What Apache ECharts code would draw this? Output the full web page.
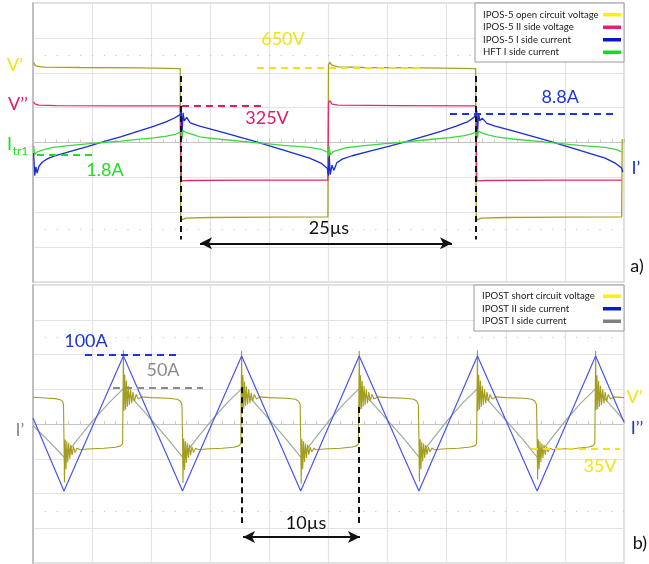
<!DOCTYPE html>
<html><head><meta charset="utf-8">
<script src="https://cdn.jsdelivr.net/npm/echarts@6/dist/echarts.min.js"></script>
<style>html,body{margin:0;padding:0;background:#fff}#c{width:649px;height:564px}</style>
</head><body><div id="c"></div><script>
// ---------- names ----------
const topNames = ['IPOS-5 open circuit voltage', 'IPOS-5 II side voltage', 'IPOS-5 I side current', 'HFT I side current'];
const bottomNames = ['IPOST short circuit voltage', 'IPOST II side current', 'IPOST I side current'];

// ---------- panel a) traces: [time µs, divisions] ----------
const topVoltOpen = [[0.05,2.3],[0.15,2.22],[0.4,2.18],[1,2.16],[4,2.15],[9,2.14],[12.45,2.12],[12.5,-2.16],[12.6,-2.22],[12.9,-2.17],[15,-2.15],[20,-2.14],[24.95,-2.13],[25.0,2.22],[25.1,2.3],[25.3,2.22],[25.8,2.17],[28,2.15],[33,2.14],[37.45,2.12],[37.5,-2.16],[37.6,-2.22],[37.9,-2.17],[40,-2.15],[45,-2.14],[49.8,-2.13],[49.85,0.1]];
const topVoltII = [[0.05,1.16],[0.2,1.1],[0.5,1.07],[2,1.06],[8,1.05],[12.45,1.05],[12.55,-1.1],[12.7,-1.13],[13.2,-1.09],[18,-1.08],[24.95,-1.08],[25.0,1.14],[25.1,1.2],[25.3,1.1],[25.8,1.07],[31,1.06],[37.45,1.05],[37.55,-1.1],[37.7,-1.13],[38.2,-1.09],[44,-1.08],[49.8,-1.08]];
const topCurrI = [[0.05,-0.3],[0.15,-0.95],[0.25,-0.7],[0.35,-0.88],[0.5,-0.68],[0.8,-0.56],[1.2,-0.47],[1.7,-0.4],[3.1,-0.26],[4.6,-0.12],[5.9,0.02],[7.4,0.16],[8.8,0.31],[10.2,0.46],[11.3,0.6],[12.0,0.71],[12.45,0.8],[12.55,0.9],[12.6,0.22],[12.7,0.85],[12.8,0.62],[13.0,0.72],[13.3,0.56],[14.1,0.47],[15.6,0.33],[18.4,0.07],[21.2,-0.22],[23.4,-0.45],[24.4,-0.6],[24.9,-0.74],[25.0,-0.95],[25.05,-0.3],[25.15,-0.92],[25.3,-0.65],[25.45,-0.8],[25.7,-0.58],[26.2,-0.47],[27,-0.38],[28.5,-0.25],[30,-0.12],[31.5,0.02],[33,0.17],[34.5,0.32],[35.8,0.47],[36.8,0.6],[37.3,0.72],[37.45,0.8],[37.55,0.9],[37.6,0.25],[37.7,0.84],[37.8,0.62],[38.0,0.7],[38.4,0.55],[39.1,0.47],[40.6,0.33],[43.4,0.07],[46.2,-0.22],[48.4,-0.45],[49.3,-0.6],[49.8,-0.73],[49.9,-0.85]];
const topCurrHFT = [[0.05,-0.1],[0.15,-0.35],[0.3,-0.28],[0.6,-0.24],[1.0,-0.2],[1.7,-0.14],[3,-0.09],[4.6,-0.04],[6,0.0],[7.4,0.04],[8.8,0.09],[10.2,0.13],[11.3,0.18],[12.0,0.23],[12.45,0.3],[12.55,0.38],[12.6,0.1],[12.7,0.34],[13.0,0.28],[13.5,0.23],[14.1,0.16],[15.6,0.1],[18.4,0.01],[21.2,-0.08],[23.4,-0.14],[24.4,-0.2],[24.9,-0.28],[25.0,-0.4],[25.05,-0.1],[25.15,-0.35],[25.4,-0.26],[25.8,-0.22],[26.5,-0.15],[28,-0.09],[29.6,-0.04],[31,0.0],[32.5,0.05],[34,0.1],[35.3,0.14],[36.5,0.2],[37.1,0.25],[37.45,0.3],[37.55,0.38],[37.6,0.12],[37.7,0.33],[38.0,0.27],[38.5,0.22],[39.2,0.16],[40.6,0.1],[43.4,0.01],[46.2,-0.08],[48.4,-0.14],[49.3,-0.2],[49.8,-0.27]];

// ---------- panel b) traces ----------
const bottomVoltShort = [[0,0.77],[1.0,0.75],[1.9,0.73],[2.3,0.7],[2.5,0.65],[2.58,0.56],
[2.62,-0.4],[2.66,-1.68],[2.72,-0.45],[2.79,-1.3],[2.86,-0.5],[2.94,-1.1],[3.02,-0.55],[3.11,-1.0],[3.2,-0.6],[3.3,-0.9],[3.42,-0.65],[3.55,-0.82],[3.72,-0.7],[4.0,-0.74],[4.6,-0.72],[6.0,-0.7],[7.0,-0.67],[7.4,-0.63],[7.58,-0.57],
[7.65,2.12],[7.7,0.38],[7.76,1.42],[7.83,0.42],[7.9,1.25],[7.98,0.5],[8.06,1.1],[8.15,0.55],[8.25,1.0],[8.35,0.6],[8.46,0.92],[8.58,0.65],[8.72,0.85],[8.9,0.72],[9.2,0.78],[10,0.76],[11.5,0.74],[12.2,0.71],[12.45,0.66],[12.6,0.56],
[12.65,-0.4],[12.69,-1.7],[12.75,-0.42],[12.82,-1.32],[12.89,-0.5],[12.97,-1.12],[13.05,-0.55],[13.14,-0.98],[13.23,-0.6],[13.33,-0.9],[13.45,-0.65],[13.58,-0.82],[13.75,-0.7],[14.0,-0.74],[14.6,-0.72],[16,-0.7],[17.0,-0.67],[17.4,-0.63],[17.58,-0.57],
[17.65,2.1],[17.7,0.36],[17.76,1.4],[17.83,0.44],[17.9,1.22],[17.98,0.52],[18.06,1.08],[18.15,0.56],[18.25,1.0],[18.35,0.6],[18.46,0.9],[18.58,0.66],[18.72,0.85],[18.9,0.72],[19.2,0.78],[20,0.76],[21.5,0.74],[22.2,0.71],[22.45,0.66],[22.6,0.56],
[22.65,-0.42],[22.69,-1.72],[22.75,-0.44],[22.82,-1.3],[22.89,-0.5],[22.97,-1.1],[23.05,-0.56],[23.14,-0.98],[23.23,-0.6],[23.33,-0.88],[23.45,-0.66],[23.58,-0.8],[23.75,-0.7],[24.0,-0.74],[24.6,-0.72],[26,-0.7],[27.0,-0.66],[27.35,-0.63],[27.53,-0.57],
[27.6,2.1],[27.65,0.4],[27.71,1.4],[27.78,0.43],[27.85,1.24],[27.93,0.5],[28.01,1.1],[28.1,0.55],[28.2,1.0],[28.3,0.6],[28.41,0.92],[28.53,0.65],[28.67,0.85],[28.85,0.72],[29.15,0.78],[30,0.76],[31.5,0.74],[32.2,0.71],[32.45,0.66],[32.6,0.56],
[32.65,-0.4],[32.69,-1.66],[32.75,-0.44],[32.82,-1.3],[32.89,-0.52],[32.97,-1.08],[33.05,-0.56],[33.14,-0.98],[33.23,-0.6],[33.33,-0.88],[33.45,-0.66],[33.58,-0.8],[33.75,-0.7],[34.0,-0.74],[34.6,-0.72],[36,-0.7],[37.0,-0.66],[37.35,-0.63],[37.53,-0.57],
[37.6,2.12],[37.65,0.38],[37.71,1.42],[37.78,0.42],[37.85,1.25],[37.93,0.5],[38.01,1.1],[38.1,0.55],[38.2,1.0],[38.3,0.6],[38.41,0.92],[38.53,0.65],[38.67,0.85],[38.85,0.72],[39.15,0.78],[40,0.76],[41.5,0.74],[42.2,0.71],[42.45,0.66],[42.6,0.56],
[42.65,-0.42],[42.69,-1.6],[42.75,-0.44],[42.82,-1.3],[42.89,-0.5],[42.97,-1.1],[43.05,-0.56],[43.14,-0.98],[43.23,-0.6],[43.33,-0.88],[43.45,-0.66],[43.58,-0.8],[43.75,-0.7],[44.0,-0.74],[44.6,-0.72],[46,-0.7],[47.0,-0.66],[47.35,-0.63],[47.53,-0.57],
[47.6,2.1],[47.65,0.4],[47.71,1.4],[47.78,0.43],[47.85,1.24],[47.93,0.5],[48.01,1.1],[48.1,0.55],[48.2,1.0],[48.3,0.6],[48.41,0.92],[48.53,0.65],[48.67,0.85],[48.85,0.72],[49.15,0.78],[50,0.76]];
const bottomCurrII = [[0,0.17],[2.62,-1.93],[7.65,1.96],[12.65,-1.93],[17.65,1.96],[22.65,-1.93],[27.6,1.96],[32.65,-1.93],[37.6,1.96],[42.65,-1.93],[47.6,1.96],[50,0.05]];
const bottomCurrI = [[0,-0.05],[1.3,-0.48],[2.62,-0.95],[3.87,-0.4],[5.12,0.12],[6.4,0.6],[7.65,1.02],[8.9,0.55],[10.15,0.07],[11.4,-0.43],[12.65,-0.95],[13.9,-0.4],[15.15,0.12],[16.4,0.6],[17.65,1.02],[18.9,0.55],[20.15,0.07],[21.4,-0.43],[22.65,-0.95],[23.9,-0.4],[25.1,0.12],[26.35,0.6],[27.6,1.02],[28.85,0.55],[30.1,0.07],[31.4,-0.43],[32.65,-0.95],[33.9,-0.4],[35.1,0.12],[36.35,0.6],[37.6,1.02],[38.85,0.55],[40.1,0.07],[41.4,-0.43],[42.65,-0.95],[43.9,-0.4],[45.1,0.12],[46.35,0.6],[47.6,1.02],[48.85,0.55],[50,0.1]];

// ---------- annotations (data units) ----------
const topDashes = [ // [t1,y1,t2,y2,colorKey]
  [18.95,2.14,32.74,2.14,'y'],[12.6,1.05,19.46,1.05,'p'],[0.34,-0.36,4.99,-0.36,'g'],[35.28,0.82,49.07,0.82,'b'],
  [12.52,1.91,12.52,-2.78,'k'],[37.48,1.91,37.48,-2.78,'k']];
const topArrow = [14.13,-2.89,35.45,-2.89];
const topTexts = [ // [text,t,y,colorKey,size]
  ['650V',21.15,2.95,'y',18],['325V',19.8,0.71,'p',18],['1.8A',6.09,-0.79,'g',18],['8.8A',44.6,1.31,'b',18],
  ['25µs',25.04,-2.46,'k',18],['V’',-1.52,2.23,'y',18],['V’’',-1.27,1.11,'p',18],['I',-1.99,-0.04,'g',18],['tr1',-1.06,-0.24,'g',12],
  ['I’',51.0,-0.73,'b',18],['a)',51.1,-3.55,'k',18]];
const bottomDashes = [
  [4.4,1.99,12.1,1.99,'b'],[6.77,1.04,14.38,1.04,'gr'],[42.13,-0.72,49.66,-0.72,'y'],
  [17.68,1.06,17.68,-2.85,'k'],[27.58,0.49,27.58,-2.91,'k']];
const bottomArrow = [17.77,-3.25,27.66,-3.25];
const bottomTexts = [
  ['100A',4.48,2.39,'b',18],['50A',11.0,1.55,'gr',18],['10µs',23.1,-2.85,'k',18],['35V',47.97,-1.21,'y',18],
  ['I’',-1.1,-0.17,'gr',18],['V’',50.9,0.78,'y',18],['I’’',51.1,-0.12,'b',18],['b)',51.35,-3.42,'k',18]];

const annColor = {y:'#f0e412', p:'#e01a6e', g:'#22dd22', b:'#1e36d6', gr:'#8c8c8c', k:'#111'};
const topTraceColors = ['#a7a220', '#e3296f', '#1a2dd2', '#40d640'];
const bottomTraceColors = ['#a29d1e', '#4b55ea', '#9cab9c'];
const topSwatch = ['#fff000', '#e8206e', '#0a14c8', '#10e010'];
const bottomSwatch = ['#fff000', '#0a1ec0', '#808080'];

const chart = echarts.init(document.getElementById('c'), null, {renderer:'canvas'});
const FONT = 'Lato, "Open Sans", sans-serif';

function xAx(g){ return {gridIndex:g, type:'value', min:0, max:50, interval:5,
  axisLabel:{show:false}, axisLine:{show:true, onZero:true, lineStyle:{color:'#c4c4c4', width:1}},
  axisTick:{show:true, inside:true, length:4, lineStyle:{color:'#c4c4c4'}},
  minorTick:{show:true, splitNumber:5, length:3, lineStyle:{color:'#c8c8c8'}},
  splitLine:{show:true, lineStyle:{color:'#e3e3e3', width:1.2}}}; }
function yAx(g){ return {gridIndex:g, type:'value', min:-4, max:4, interval:1,
  axisLabel:{show:false}, axisTick:{show:false},
  axisLine:{show:true, onZero:false, lineStyle:{color:'#b4b4b4', width:1.5}},
  splitLine:{show:true, lineStyle:{color:'#e3e3e3', width:1.2}}}; }

function ml(d){ return [{coord:[d[0],d[1]], lineStyle:{color:annColor[d[4]], type:d[4]==='k'?[6,4]:[7,5], width:d[4]==='k'?2:1.8}},{coord:[d[2],d[3]]}]; }
function dotted(){ return [[{coord:[0,2.5], lineStyle:{color:'#c6c6c6', type:[1.2,10.6], width:1.2}},{coord:[50,2.5]}],
  [{coord:[0,-2.5], lineStyle:{color:'#c6c6c6', type:[1.2,10.6], width:1.2}},{coord:[50,-2.5]}]]; }

function trace(name, data, color, g, w){ return {name, type:'line', xAxisIndex:g, yAxisIndex:g, data, showSymbol:false,
  symbol:'none', silent:true, animation:false, lineStyle:{color, width:w}, itemStyle:{color}}; }

const series = [
  {type:'line', xAxisIndex:0, yAxisIndex:0, data:[], silent:true, animation:false,
   markLine:{silent:true, symbol:'none', animation:false, label:{show:false}, data: dotted()}},
  {type:'line', xAxisIndex:1, yAxisIndex:1, data:[], silent:true, animation:false,
   markLine:{silent:true, symbol:'none', animation:false, label:{show:false}, data: dotted()}},
  trace(topNames[0], topVoltOpen, topTraceColors[0], 0, 1.3),
  trace(topNames[1], topVoltII, topTraceColors[1], 0, 1.3),
  trace(topNames[2], topCurrI, topTraceColors[2], 0, 1.3),
  trace(topNames[3], topCurrHFT, topTraceColors[3], 0, 1.3),
  trace(bottomNames[2], bottomCurrI, bottomTraceColors[2], 1, 1.2),
  trace(bottomNames[0], bottomVoltShort, bottomTraceColors[0], 1, 1.1),
  trace(bottomNames[1], bottomCurrII, bottomTraceColors[1], 1, 1.2),
  {type:'line', xAxisIndex:0, yAxisIndex:0, data:[], silent:true, animation:false, z:5,
   markLine:{silent:true, symbol:'none', symbolSize:[9,12], animation:false, label:{show:false}, data: topDashes.map(ml).concat([
     [{coord:[topArrow[0],topArrow[1]], symbol:'arrow', lineStyle:{color:'#111', type:'solid', width:2}},{coord:[topArrow[2],topArrow[3]], symbol:'arrow'}]])},
   },
  {type:'line', xAxisIndex:1, yAxisIndex:1, data:[], silent:true, animation:false, z:5,
   markLine:{silent:true, symbol:'none', symbolSize:[9,12], animation:false, label:{show:false}, data: bottomDashes.map(ml).concat([
     [{coord:[bottomArrow[0],bottomArrow[1]], symbol:'arrow', lineStyle:{color:'#111', type:'solid', width:2}},{coord:[bottomArrow[2],bottomArrow[3]], symbol:'arrow'}]])},
   }
];

chart.setOption({
  animation:false, backgroundColor:'#fff',
  grid:[{left:33, right:25, top:3, height:279, show:true, borderColor:'#d6d6d6', borderWidth:1.5, backgroundColor:'#fff'},
        {left:33, right:25, top:285, height:278, show:true, borderColor:'#d6d6d6', borderWidth:1.5, backgroundColor:'#fff'}],
  xAxis:[xAx(0), xAx(1)], yAxis:[yAx(0), yAx(1)],
  series
});

const graphics = [];
function addTexts(list, g){
  list.forEach(([t, xt, yt, c, s]) => {
    const p = chart.convertToPixel({gridIndex:g}, [xt, yt]);
    graphics.push({type:'text', x:p[0], y:p[1], z:100, silent:true,
      style:{text:t, fill:annColor[c], font: s + 'px ' + FONT, align:'center', verticalAlign:'middle'}});
  });
}
addTexts(topTexts, 0); addTexts(bottomTexts, 1);

function addLegend(names, colors, x, y, w, h, rowY){
  graphics.push({type:'rect', shape:{x, y, width:w, height:h}, z:90, silent:true,
    style:{fill:'#fff', stroke:'#9a9a9a', lineWidth:1}});
  names.forEach((n, i) => {
    graphics.push({type:'text', x:x+8, y:rowY[i], z:91, silent:true,
      style:{text:n, fill:'#1a1a1a', font:'9.6px ' + FONT, align:'left', verticalAlign:'middle'}});
    graphics.push({type:'rect', shape:{x:x+w-21, y:rowY[i]-1.5, width:18, height:3.5}, z:91, silent:true,
      style:{fill:colors[i]}});
  });
}
addLegend(topNames, topSwatch, 475, 3, 149, 59, [14.5, 27, 39.5, 52]);
addLegend(bottomNames, bottomSwatch, 474, 285, 150, 46, [296, 308.5, 321]);

chart.setOption({graphic: graphics});
</script></body></html>
